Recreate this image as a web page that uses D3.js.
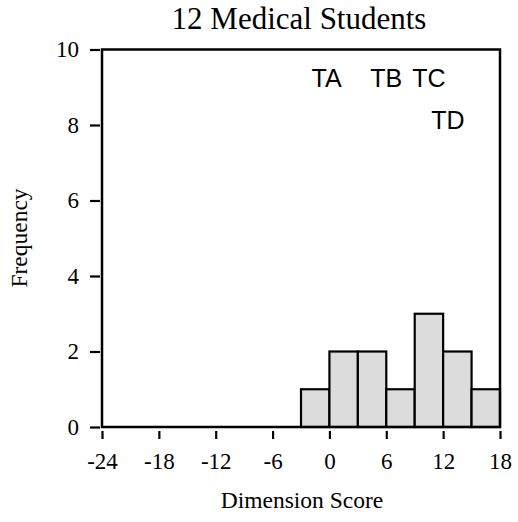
<!DOCTYPE html>
<html>
<head>
<meta charset="utf-8">
<script src="https://cdn.jsdelivr.net/npm/d3@7"></script>
<style>
  html, body { margin: 0; padding: 0; background: #fff; }
  svg { display: block; }
</style>
</head>
<body>
<svg id="chart" width="518" height="522"></svg>
<script>
// Histogram bins: left edge, right edge, count
const binStarts = [-3, 0, 3, 6, 9, 12, 15];
const binEnds   = [0, 3, 6, 9, 12, 15, 18];
const counts    = [1, 2, 2, 1, 3, 2, 1];

const xTicks = [-24, -18, -12, -6, 0, 6, 12, 18];
const yTicks = [0, 2, 4, 6, 8, 10];

// Annotation labels inside the plot
const noteText = ["TA", "TB", "TC", "TD"];
const noteX    = [-0.3, 6, 10.5, 12.5];
const noteY    = [9, 9, 9, 7.9];

const svg = d3.select("#chart");
const plotLeft = 102, plotRight = 500, plotTop = 49.5, plotBottom = 427;

const x = d3.scaleLinear().domain([-24, 18]).range([plotLeft, plotRight]);
const y = d3.scaleLinear().domain([0, 10]).range([plotBottom, plotTop]);

const serif = "'Liberation Serif', 'Times New Roman', serif";
const sans = "'Liberation Sans', Arial, sans-serif";

// Bars
svg.append("g").selectAll("rect")
  .data(counts)
  .join("rect")
  .attr("x", (d, i) => x(binStarts[i]))
  .attr("width", (d, i) => x(binEnds[i]) - x(binStarts[i]))
  .attr("y", d => y(d))
  .attr("height", d => y(0) - y(d))
  .attr("fill", "#dcdcdc")
  .attr("stroke", "#000")
  .attr("stroke-width", 2.2);

// Plot frame
svg.append("rect")
  .attr("x", plotLeft).attr("y", plotTop)
  .attr("width", plotRight - plotLeft).attr("height", plotBottom - plotTop)
  .attr("fill", "none").attr("stroke", "#000").attr("stroke-width", 2.5);

// X axis (plain hyphen for negatives)
const xAxis = svg.append("g")
  .attr("transform", `translate(0,${plotBottom + 4})`)
  .call(d3.axisBottom(x).tickValues(xTicks).tickSize(8).tickPadding(14).tickFormat(d => String(d)));
xAxis.select(".domain").remove();
xAxis.selectAll("line").attr("stroke-width", 2.2);
xAxis.selectAll("text").attr("font-family", serif).attr("font-size", 23).attr("fill", "#000");

// Y axis
const yAxis = svg.append("g")
  .attr("transform", `translate(${plotLeft - 2},0)`)
  .call(d3.axisLeft(y).tickValues(yTicks).tickSize(10).tickPadding(11).tickFormat(d => String(d)));
yAxis.select(".domain").remove();
yAxis.selectAll("line").attr("stroke-width", 2.2);
yAxis.selectAll("text").attr("font-family", serif).attr("font-size", 23).attr("fill", "#000");

// Annotations
svg.append("g").selectAll("text")
  .data(noteText)
  .join("text")
  .attr("x", (d, i) => x(noteX[i]))
  .attr("y", (d, i) => y(noteY[i]))
  .attr("text-anchor", "middle")
  .attr("font-family", sans)
  .attr("font-size", 25)
  .text(d => d);

// Title and axis titles
svg.append("text")
  .attr("x", 299).attr("y", 29)
  .attr("text-anchor", "middle")
  .attr("font-family", serif).attr("font-size", 31)
  .text("12 Medical Students");

svg.append("text")
  .attr("x", 302).attr("y", 508)
  .attr("text-anchor", "middle")
  .attr("font-family", serif).attr("font-size", 23.5)
  .text("Dimension Score");

svg.append("text")
  .attr("transform", "translate(27,238) rotate(-90)")
  .attr("text-anchor", "middle")
  .attr("font-family", serif).attr("font-size", 23.5)
  .text("Frequency");
</script>
</body>
</html>
